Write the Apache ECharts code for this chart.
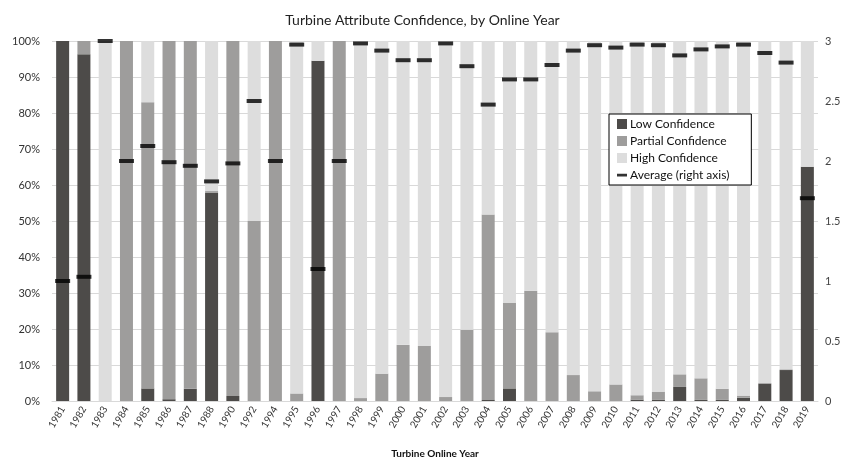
<!DOCTYPE html>
<html><head><meta charset="utf-8">
<script src="https://cdn.jsdelivr.net/npm/echarts@6/dist/echarts.min.js"></script>
<style>html,body{margin:0;padding:0;background:#fff}#c{width:845px;height:464px}</style>
</head><body><div id="c"></div>
<script>
var years = ['1981','1982','1983','1984','1985','1986','1987','1988','1990','1992','1994','1995','1996','1997','1998','1999','2000','2001','2002','2003','2004','2005','2006','2007','2008','2009','2010','2011','2012','2013','2014','2015','2016','2017','2018','2019'];
var lowConf =     [100, 96.3, 0, 0, 3.5, 0.5, 3.4, 57.8, 1.4, 0, 0, 0, 94.5, 0, 0, 0, 0, 0, 0, 0, 0.3, 3.5, 0, 0, 0, 0, 0, 0.4, 0.3, 3.9, 0.3, 0.3, 0.9, 4.8, 8.6, 65.1];
var partialConf = [0, 3.7, 0, 100, 79.5, 99.5, 96.6, 0.5, 98.6, 50, 100, 2.1, 0, 100, 0.8, 7.6, 15.6, 15.3, 1.1, 19.8, 51.5, 23.7, 30.6, 19.1, 7.2, 2.7, 4.6, 1.2, 2.3, 3.5, 6.0, 3.1, 0.6, 0.2, 0.2, 0];
var highConf = years.map(function(_, i){ return Math.max(0, +(100 - lowConf[i] - partialConf[i]).toFixed(2)); });
var avgScore =    [1.0, 1.035, 3.0, 2.0, 2.125, 1.99, 1.96, 1.83, 1.98, 2.5, 2.0, 2.97, 1.10, 2.0, 2.98, 2.92, 2.84, 2.84, 2.98, 2.79, 2.47, 2.68, 2.68, 2.80, 2.92, 2.965, 2.945, 2.97, 2.965, 2.88, 2.93, 2.955, 2.97, 2.90, 2.82, 1.69];

var FONT = 'Lato, "Open Sans", sans-serif';
var chart = echarts.init(document.getElementById('c'), null, {renderer:'canvas'});
chart.setOption({
  animation: false,
  backgroundColor: '#fff',
  textStyle: {fontFamily: FONT},
  title: {text: 'Turbine Attribute Confidence, by Online Year', left: 'center', top: 8,
    textStyle: {fontFamily: FONT, fontSize: 14, fontWeight: 'normal', color: '#222'}},
  legend: {
    orient: 'vertical', left: 609, top: 114, width: 160,
    backgroundColor: '#fff', borderColor: '#000', borderWidth: 1,
    padding: [4, 22, 4, 8], itemGap: 5, itemWidth: 10, itemHeight: 10,
    textStyle: {fontFamily: FONT, fontSize: 12, color: '#111', padding: [0,0,0,-2]},
    data: [
      {name: 'Low Confidence', icon: 'rect'},
      {name: 'Partial Confidence', icon: 'rect'},
      {name: 'High Confidence', icon: 'rect'},
      {name: 'Average (right axis)', icon: 'path://M0,0h0.01v0.01h-0.01Z M0,3.8h10v2.8h-10Z M0,9.99h0.01v0.01h-0.01Z'}
    ]
  },
  grid: {left: 52, right: 27, top: 41, bottom: 56, containLabel: false},
  xAxis: {
    type: 'category', data: years,
    name: 'Turbine Online Year', nameLocation: 'middle', nameGap: 48,
    nameTextStyle: {fontFamily: FONT, fontSize: 10, fontWeight: 'bold', color: '#111'},
    axisLine: {lineStyle: {color: '#d9d9d9'}}, axisTick: {show: false},
    axisLabel: {rotate: 60, fontSize: 10, color: '#333', interval: 0, margin: 6}
  },
  yAxis: [
    {type: 'value', min: 0, max: 100, interval: 10,
     axisLabel: {formatter: '{value}%', fontSize: 11, color: '#333', margin: 12},
     splitLine: {lineStyle: {color: '#d9d9d9'}}, axisLine: {show: false}, axisTick: {show: false}},
    {type: 'value', min: 0, max: 3, interval: 0.5,
     axisLabel: {fontSize: 11, color: '#444', margin: 7},
     splitLine: {show: false}, axisLine: {show: false}, axisTick: {show: false}}
  ],
  series: [
    {name: 'Low Confidence', type: 'bar', stack: 'c', data: lowConf, barWidth: 13, itemStyle: {color: '#4d4b49'}},
    {name: 'Partial Confidence', type: 'bar', stack: 'c', data: partialConf, barWidth: 13, itemStyle: {color: '#9e9d9c'}},
    {name: 'High Confidence', type: 'bar', stack: 'c', data: highConf, barWidth: 13, itemStyle: {color: '#dddddd'}},
    {name: 'Average (right axis)', type: 'scatter', yAxisIndex: 1, data: avgScore, symbol: 'rect', symbolSize: [15, 4],
     itemStyle: {color: '#000'}, z: 5}
  ]
});
</script></body></html>
